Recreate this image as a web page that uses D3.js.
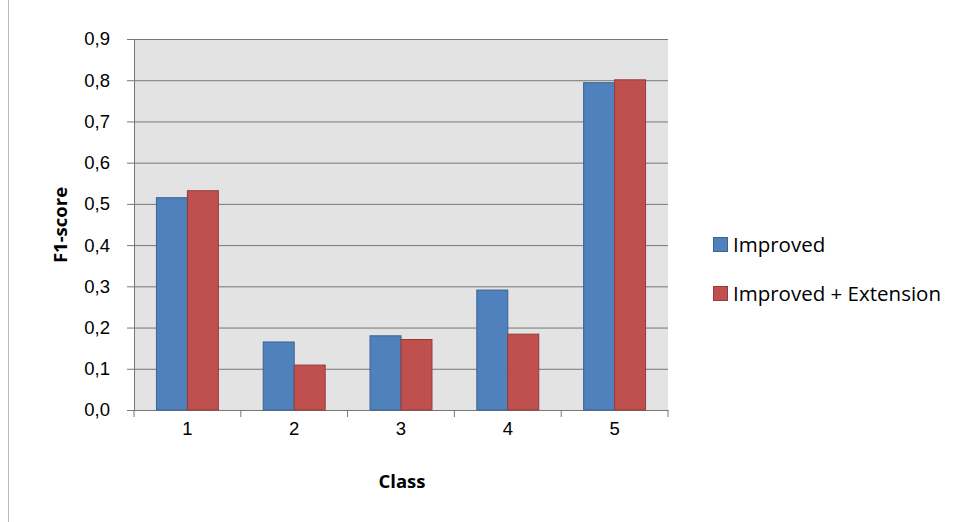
<!DOCTYPE html>
<html><head><meta charset="utf-8">
<script src="https://cdn.jsdelivr.net/npm/d3@7/dist/d3.min.js"></script>
<style>body{margin:0;background:#fff}svg{font-family:"Open Sans",sans-serif}</style>
</head><body><svg id="c" width="964" height="522"></svg>
<script>
const categories=["1","2","3","4","5"];
const seriesNames=["Improved","Improved + Extension"];
const improved=[0.515,0.165,0.180,0.291,0.794];
const extension=[0.532,0.109,0.171,0.184,0.801];
const yTicks=[0,0.1,0.2,0.3,0.4,0.5,0.6,0.7,0.8,0.9];
const colors=["#4f81bd","#c0504d"],strokes=["#3a6390","#923c3a"];
const svg=d3.select("#c");
svg.append("rect").attr("x",8.5).attr("y",-1).attr("width",960).attr("height",530).attr("fill","none").attr("stroke","#bbb");
const L=134,R=668,T=39,B=410;
const x=d3.scaleBand().domain(categories).range([L,R]).paddingInner(0.42).paddingOuter(0.21);
const y=d3.scaleLinear().domain([0,0.9]).range([B,T]);
svg.append("rect").attr("x",L).attr("y",T).attr("width",R-L).attr("height",B-T).attr("fill","#e3e3e3");
svg.selectAll(".g").data(yTicks).join("line").attr("x1",L).attr("x2",R).attr("y1",d=>y(d)+.5).attr("y2",d=>y(d)+.5).attr("stroke","#777").attr("stroke-width",1);
const fmt=d=>d3.format(".1f")(d).replace(".",",");
const ya=svg.append("g").attr("transform",`translate(${L},0)`).call(d3.axisLeft(y).tickValues(yTicks).tickFormat(fmt).tickSize(7));
ya.selectAll("text").attr("font-size",18.5).attr("fill","#000").attr("dx",-14);
ya.selectAll("path,line").attr("stroke","#777");
const xa=svg.append("g").attr("transform",`translate(0,${B})`).call(d3.axisBottom(x).tickSize(0));
xa.selectAll("text").attr("font-size",18.5).attr("fill","#000").attr("dy",22);
xa.select("path").attr("stroke","#777");
const bw=x.step();
xa.selectAll(".sep").data(d3.range(6)).join("line").attr("x1",i=>L+i*bw).attr("x2",i=>L+i*bw).attr("y1",0).attr("y2",7).attr("stroke","#777");
[improved,extension].forEach((s,k)=>{
 svg.selectAll(".b"+k).data(s).join("rect").attr("x",(d,i)=>x(categories[i])+k*x.bandwidth()/2)
 .attr("y",d=>y(d)).attr("width",x.bandwidth()/2).attr("height",d=>B-y(d))
 .attr("fill",colors[k]).attr("stroke",strokes[k]).attr("stroke-width",1);
});
svg.append("text").attr("transform","translate(67,225) rotate(-90)").attr("text-anchor","middle").attr("font-weight","bold").attr("font-size",18.5).text("F1-score");
svg.append("text").attr("x",402).attr("y",488).attr("text-anchor","middle").attr("font-weight","bold").attr("font-size",18.5).text("Class");
seriesNames.forEach((n,k)=>{
 const yy=245+k*49;
 svg.append("rect").attr("x",713.5).attr("y",yy-7.5).attr("width",14).attr("height",14).attr("fill",colors[k]).attr("stroke",strokes[k]);
 svg.append("text").attr("x",733).attr("y",yy+7).attr("font-size",20.5).text(n);
});
</script></body></html>
